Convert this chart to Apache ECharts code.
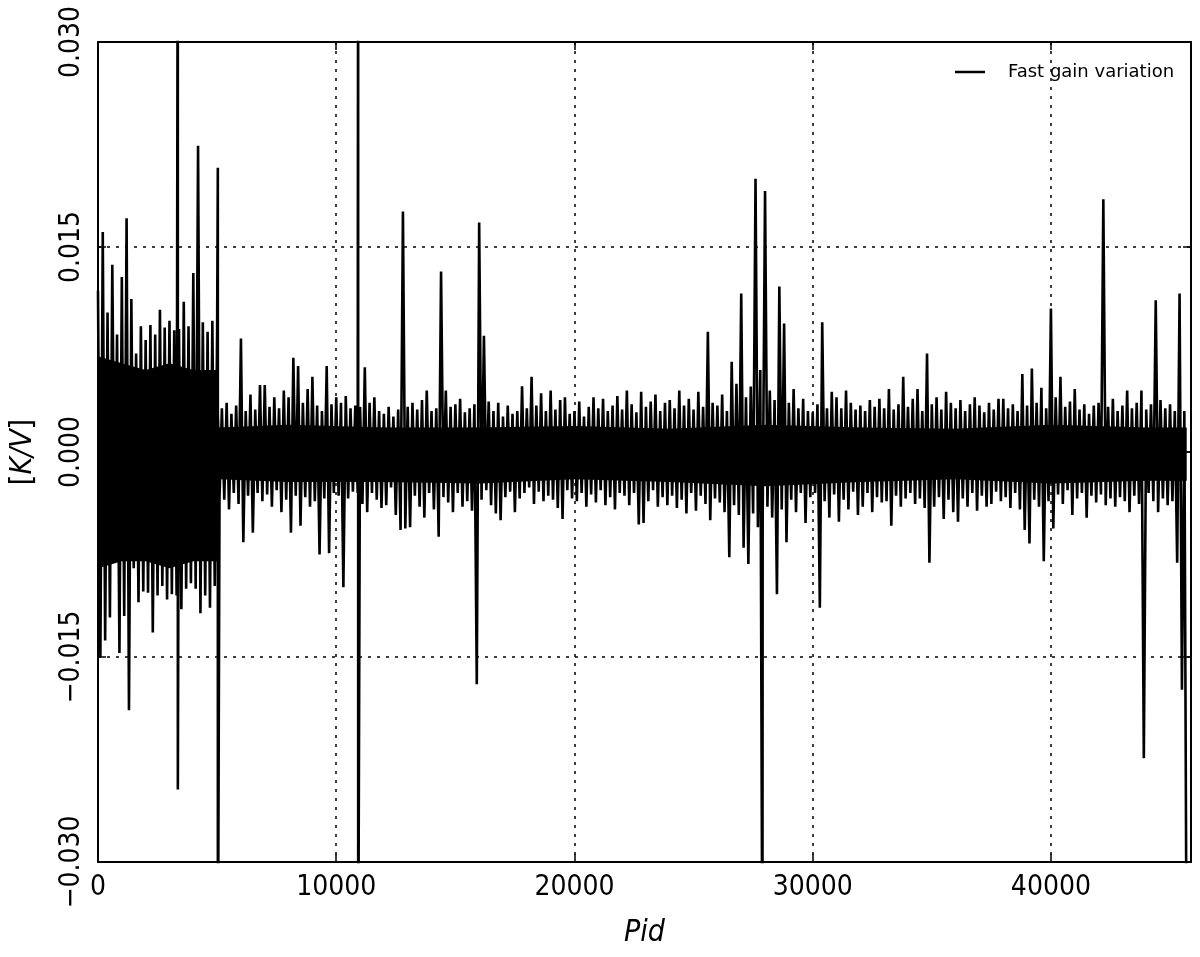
<!DOCTYPE html>
<html>
<head>
<meta charset="utf-8">
<script src="https://cdn.jsdelivr.net/npm/echarts@6/dist/echarts.min.js"></script>
<style>
html,body{margin:0;padding:0;background:#fff;}
#chart{width:1200px;height:957px;}
</style>
</head>
<body>
<div id="chart"></div>
<script>
// Pid sampling step of the digitised envelope (upper peak at i*step, lower trough at i*step+step/2)
const pidStep = 200;
// Upper peaks of the fast gain variation, in 1e-3 K/V
const upperPeaks = [
  11.8, 16.1, 10.2, 13.7, 8.6,   12.8, 17.1, 11.2, 7.2, 9.2,
  8.2, 9.3, 8.6, 10.4, 9.1,      9.6, 8.9, 9.0, 11.0, 9.2,
  13.1, 22.4, 9.5, 8.8, 9.6,     8.8, 3.2, 3.6, 2.8, 3.4,
  8.3, 3.0, 4.2, 3.1, 4.9,       4.9, 3.3, 4.0, 3.2, 4.5,
  4.0, 6.9, 6.3, 3.6, 4.6,       5.5, 3.4, 3.0, 6.3, 3.5,
  4.0, 3.6, 4.1, 3.2, 3.4,       3.3, 6.2, 3.6, 4.0, 3.0,
  2.8, 3.3, 2.6, 3.1, 17.6,      3.3, 3.6, 3.1, 3.8, 4.5,
  3.0, 3.2, 13.2, 4.5, 3.3,      3.5, 3.9, 2.9, 3.2, 3.5,
  16.8, 8.5, 3.7, 3.0, 3.6,      2.6, 3.4, 2.8, 3.0, 4.8,
  3.2, 5.5, 3.4, 4.3, 3.0,       4.5, 3.1, 3.8, 4.0, 2.8,
  3.0, 3.7, 2.6, 3.3, 4.0,       3.2, 3.9, 3.0, 3.4, 4.1,
  3.1, 4.5, 3.5, 2.9, 4.4,       3.3, 3.7, 4.2, 3.0, 3.6,
  3.8, 3.2, 4.5, 3.4, 3.9,       3.1, 4.4, 3.3, 8.8, 3.6,
  3.4, 4.2, 3.0, 6.6, 5.0,       11.6, 4.0, 4.8, 20.0, 6.0,
  19.1, 4.5, 3.8, 12.1, 9.4,     3.6, 4.6, 3.2, 3.9, 3.0,
  2.9, 3.5, 9.5, 3.2, 4.4,       4.0, 3.2, 4.5, 3.6, 3.1,
  3.4, 3.0, 3.8, 3.3, 3.9,       3.2, 4.6, 3.1, 3.5, 5.5,
  3.3, 3.9, 4.6, 3.0, 7.2,       3.5, 4.0, 3.1, 4.4, 3.6,
  3.2, 3.8, 3.0, 3.5, 4.0,       3.4, 2.9, 3.6, 3.1, 3.9,
  3.9, 3.2, 3.5, 3.0, 5.7,       3.4, 6.1, 3.6, 4.7, 3.2,
  10.5, 4.0, 5.5, 3.3, 3.7,      4.6, 3.1, 3.5, 2.8, 3.4,
  3.6, 18.5, 3.3, 3.9, 3.0,      3.4, 4.5, 3.2, 3.6, 4.5,
  3.1, 3.5, 11.1, 3.8, 3.2,      3.5, 3.0, 11.6, 3.0
];
// Lower troughs of the fast gain variation, in 1e-3 K/V
const lowerTroughs = [
  -15.0, -13.8, -12.1, -6.4, -14.7,   -12.0, -18.9, -8.5, -11.0, -10.2,
  -10.3, -13.2, -10.5, -9.8, -10.8,   -10.4, -10.5, -11.5, -10.0, -9.6,
  -10.0, -11.8, -10.5, -11.4, -9.8,   -3.5, -3.5, -4.2, -3.0, -3.8,
  -6.6, -3.2, -5.9, -3.0, -3.6,       -3.1, -4.0, -2.8, -4.4, -3.5,
  -5.9, -3.2, -5.4, -3.3, -4.0,       -3.6, -7.5, -3.4, -7.4, -3.0,
  -3.2, -9.9, -3.4, -2.9, -3.0,       -3.8, -4.4, -3.0, -3.5, -4.1,
  -3.9, -2.6, -4.6, -5.7, -5.6,       -5.5, -3.2, -4.0, -4.8, -3.0,
  -4.2, -6.2, -3.3, -3.7, -4.4,       -3.0, -4.0, -3.6, -4.3, -17.0,
  -3.5, -2.8, -3.9, -4.5, -5.0,       -3.3, -2.9, -4.4, -3.4, -3.0,
  -2.6, -3.8, -2.9, -3.6, -3.2,       -3.5, -4.1, -4.9, -2.8, -3.4,
  -3.6, -3.0, -4.0, -3.1, -3.7,       -2.8, -3.9, -3.3, -4.2, -3.0,
  -3.2, -3.9, -3.0, -5.3, -5.2,       -3.6, -2.8, -4.0, -3.3, -3.9,
  -3.2, -4.1, -3.5, -4.5, -3.0,       -4.3, -3.2, -3.8, -5.0, -3.4,
  -3.7, -4.4, -7.7, -3.9, -4.6,       -7.0, -8.2, -4.5, -5.5, -5.0,
  -4.0, -4.8, -10.4, -4.2, -6.6,      -3.5, -4.4, -3.0, -5.2, -3.3,
  -3.0, -11.4, -3.6, -4.8, -3.1,      -5.1, -3.5, -4.2, -2.9, -4.6,
  -4.0, -3.0, -4.4, -3.3, -3.7,       -3.6, -5.4, -3.2, -4.0, -3.4,
  -3.0, -3.8, -3.4, -4.1, -8.1,       -4.0, -3.3, -4.9, -3.5, -4.4,
  -5.1, -3.4, -4.0, -3.0, -4.3,       -3.2, -4.0, -3.8, -2.9, -3.6,
  -3.3, -4.1, -3.0, -4.2, -5.7,       -6.7, -3.5, -4.0, -8.0, -3.6,
  -5.6, -3.1, -3.8, -2.8, -4.6,       -3.4, -3.0, -4.8, -3.2, -3.7,
  -3.1, -3.9, -3.4, -4.0, -3.3,       -3.6, -4.4, -3.2, -3.8, -22.4,
  -3.0, -3.6, -4.4, -3.4, -3.9,       -3.6, -8.1, -17.4, -40
];
// Isolated off-scale glitches (pid, value in 1e-3 K/V), inserted into the trace
const glitchPid   = [3350, 3352, 5030, 5032, 10920, 10922, 27890];
const glitchValue = [45, -24.7, 20.8, -40, 45, -40, -40];
// Densely filled core of the noise band (where the trace is solid black), in 1e-3 K/V
const corePid  = [0, 1000, 2000, 3000, 4000, 5000, 5100, 8000, 12000, 16000, 20000, 24000, 28000, 32000, 36000, 40000, 44000, 45700];
const coreHigh = [7.0, 6.5, 6.0, 6.5, 6.0, 6.0, 1.8, 2.0, 1.8, 1.8, 1.9, 1.7, 2.0, 1.8, 1.7, 2.0, 1.8, 1.8];
const coreLow  = [-8.5, -8.0, -8.0, -8.5, -8.0, -8.0, -2.0, -2.2, -2.2, -2.3, -2.0, -2.2, -2.5, -2.2, -2.0, -2.3, -2.1, -2.1];

const seriesName = 'Fast gain variation';
const xMax = 45880;
const xTicks = [0, 10000, 20000, 30000, 40000];
const yTicks = [-0.030, -0.015, 0.000, 0.015, 0.030];

const data = [];
for (let i = 0; i < upperPeaks.length; i++) {
  data.push([i * pidStep, upperPeaks[i] * 1e-3]);
  if (i < lowerTroughs.length) data.push([i * pidStep + pidStep / 2, lowerTroughs[i] * 1e-3]);
}
glitchPid.forEach((p, i) => data.push([p, glitchValue[i] * 1e-3]));
data.sort((a, b) => a[0] - b[0]);
const coreHighData = corePid.map((p, i) => [p, coreHigh[i] * 1e-3]);
const coreLowData = corePid.map((p, i) => [p, coreLow[i] * 1e-3]);

const tickFont = "'Liberation Sans Narrow', 'DejaVu Sans Condensed', 'Liberation Sans', sans-serif";
const gridLine = { show: true, lineStyle: { color: '#000', width: 1.5, type: [3, 6] } };
const spine = { show: true, onZero: false, lineStyle: { color: '#000', width: 2 } };
const ticks = { show: true, inside: true, length: 8, lineStyle: { color: '#000', width: 1.5 } };
const coreSeries = d => ({
  type: 'line', data: d, silent: true, showSymbol: false, symbol: 'none',
  lineStyle: { width: 0, opacity: 0 }, areaStyle: { color: '#000', opacity: 1, origin: 0 },
  z: 1, tooltip: { show: false }
});

const chart = echarts.init(document.getElementById('chart'), null, { renderer: 'canvas' });
chart.setOption({
  animation: false,
  backgroundColor: '#fff',
  grid: { left: 98, right: 9, top: 42, bottom: 95, containLabel: false },
  legend: {
    data: [{ name: seriesName, icon: 'rect' }],
    left: 950, top: 58,
    itemWidth: 30, itemHeight: 2.5,
    textStyle: { color: '#000', fontSize: 18, fontFamily: "'DejaVu Sans', sans-serif", padding: [0, 0, 0, 18] }
  },
  xAxis: [{
    type: 'value', min: 0, max: xMax, interval: 10000,
    axisLine: spine, axisTick: ticks, splitLine: gridLine,
    axisLabel: { color: '#000', fontSize: 28, fontFamily: tickFont, margin: 12, showMaxLabel: false,
      formatter: v => xTicks.includes(v) ? String(v) : '' },
    name: 'Pid', nameLocation: 'middle', nameGap: 56,
    nameTextStyle: { color: '#000', fontSize: 30, fontStyle: 'italic', fontFamily: tickFont }
  }, {
    type: 'value', position: 'top', min: 0, max: xMax, interval: 10000,
    axisLine: spine, axisTick: ticks, splitLine: { show: false }, axisLabel: { show: false }
  }],
  yAxis: [{
    type: 'value', min: -0.03, max: 0.03, interval: 0.015,
    axisLine: spine, axisTick: ticks, splitLine: gridLine,
    axisLabel: { color: '#000', fontSize: 28, fontFamily: tickFont, rotate: 90, margin: 12,
      formatter: v => { const t = yTicks.find(y => Math.abs(y - v) < 1e-9); if (t === undefined) return '';
        const s = Math.abs(t).toFixed(3); return t < -1e-9 ? '\u2212' + s : s; } },
    name: '{b|[}{i|K/V}{b|]}', nameLocation: 'middle', nameGap: 60,
    nameTextStyle: { color: '#000', fontSize: 30, fontFamily: tickFont,
      rich: {
        b: { color: '#000', fontSize: 30, fontFamily: tickFont },
        i: { color: '#000', fontSize: 30, fontStyle: 'italic', fontFamily: tickFont }
      } }
  }, {
    type: 'value', position: 'right', min: -0.03, max: 0.03, interval: 0.015,
    axisLine: spine, axisTick: ticks, splitLine: { show: false }, axisLabel: { show: false }
  }],
  series: [
    coreSeries(coreHighData),
    coreSeries(coreLowData),
    {
      name: seriesName, type: 'line', data: data,
      showSymbol: false, symbol: 'none', sampling: 'none', clip: true, z: 2,
      itemStyle: { color: '#000' },
      lineStyle: { color: '#000', width: 2.6 }
    }
  ]
});
</script>
</body>
</html>
